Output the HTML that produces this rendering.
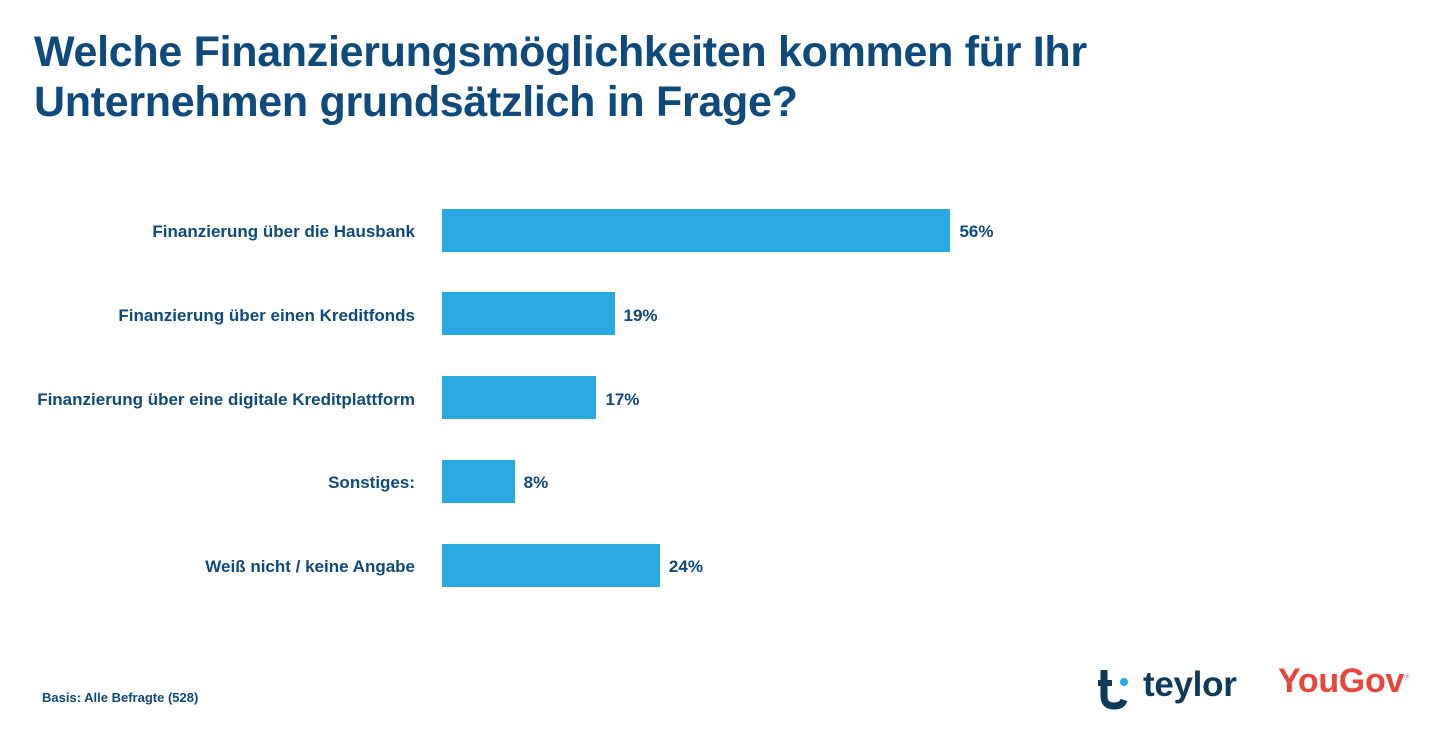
<!DOCTYPE html>
<html><head><meta charset="utf-8"><style>
body{margin:0;width:1456px;height:741px;background:#fff;font-family:"Liberation Sans",sans-serif;overflow:hidden;position:relative}
h1{position:absolute;left:34px;top:27px;margin:0;font-size:43px;line-height:50px;color:#0e4a7b;font-weight:bold;letter-spacing:-0.3px}
.lbl{position:absolute;right:1041px;font-size:17px;font-weight:bold;color:#0e4a7b;white-space:nowrap;transform:translateY(-50%)}
.bar{position:absolute;left:442px;height:43px;background:#29abe2}
.val{position:absolute;font-size:17px;font-weight:bold;color:#0e4a7b;transform:translateY(-50%)}
.foot{position:absolute;left:42px;top:690px;font-size:13px;font-weight:bold;color:#0e4a7b}
</style></head><body>
<h1>Welche Finanzierungsmöglichkeiten kommen für Ihr<br>Unternehmen grundsätzlich in Frage?</h1>
<div id="chart"></div>
<div class="foot">Basis: Alle Befragte (528)</div>
<div style="position:absolute;left:1096px;top:668px;width:150px;height:44px">
<svg width="40" height="44" style="position:absolute;left:0;top:0"><path d="M8 2 V28 Q8 38 18 38 Q26 38 28 32" stroke="#0e3a5c" stroke-width="7" fill="none"/><path d="M2 15 H16" stroke="#0e3a5c" stroke-width="6"/><circle cx="28" cy="14" r="4" fill="#29abe2"/></svg>
<span style="position:absolute;left:47px;top:-3px;font-size:35px;font-weight:bold;color:#0e3a5c;letter-spacing:-0.3px">teylor</span></div>
<div style="position:absolute;left:1278px;top:662px;font-size:34px;font-weight:bold;color:#e8453c;letter-spacing:-0.3px">YouGov<sup style="font-size:8px;color:#aaa">®</sup></div>
<script>
const categories=["Finanzierung über die Hausbank","Finanzierung über einen Kreditfonds","Finanzierung über eine digitale Kreditplattform","Sonstiges:","Weiß nicht / keine Angabe"];
const values=[56,19,17,8,24];
const valueLabels=["56%","19%","17%","8%","24%"];
const x=v=>v*9.08;
const y=i=>230+i*83.8;
const c=document.getElementById('chart');
categories.forEach((cat,i)=>{
 const l=document.createElement('div');l.className='lbl';l.style.top=(y(i)+2)+'px';l.textContent=cat;
 
 
 c.appendChild(l);
 const b=document.createElement('div');b.className='bar';b.style.top=(y(i)-21.5)+'px';b.style.width=x(values[i])+'px';
 
 
 c.appendChild(b);
 const v=document.createElement('div');v.className='val';v.style.top=(y(i)+2)+'px';v.style.left=(442+x(values[i])+9)+'px';v.textContent=valueLabels[i];
 
 
 c.appendChild(v);
});
</script>
</body></html>
